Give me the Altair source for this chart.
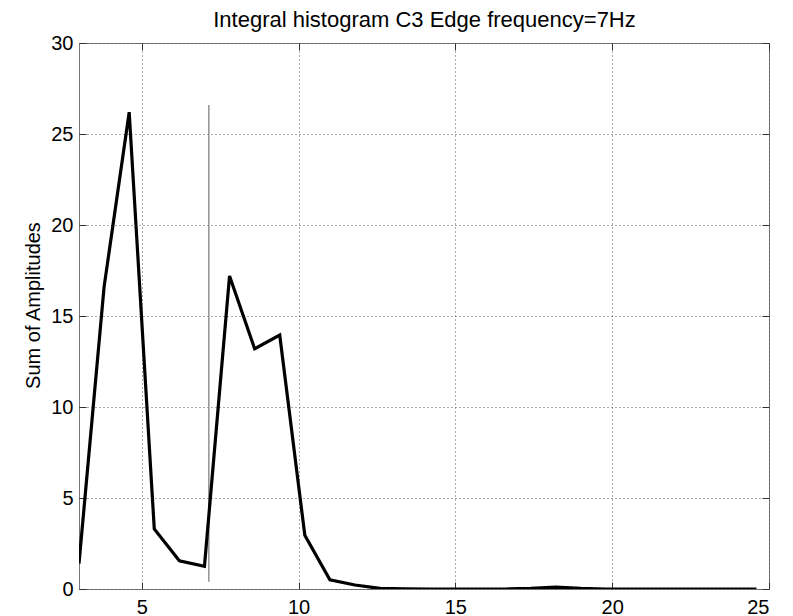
import altair as alt
import pandas as pd

# ---- data ----
freq = [3.0, 3.8, 4.6, 5.4, 6.2, 7.0, 7.8, 8.6, 9.4, 10.2, 11.0, 11.8, 12.6, 13.4,
        14.2, 15.0, 15.8, 16.6, 17.4, 18.2, 19.0, 19.8, 20.6, 21.4, 22.2, 23.0, 23.8, 24.6]
amp = [1.4, 16.6, 26.2, 3.3, 1.55, 1.25, 17.2, 13.2, 13.95, 2.95, 0.5, 0.22, 0.03, 0.01,
       0.0, 0.0, 0.0, 0.0, 0.03, 0.1, 0.03, 0.0, 0.0, 0.0, 0.0, 0.0, 0.0, 0.0]
edge_freq = [7.14]
edge_low = [0.4]
edge_high = [26.6]
x_ticks = [5, 10, 15, 20, 25]
y_ticks = [0, 5, 10, 15, 20, 25, 30]
title_text = "Integral histogram C3 Edge frequency=7Hz"
y_title = "Sum of Amplitudes"

df = pd.DataFrame({"freq": freq, "amp": amp})
edge = pd.DataFrame({"x": edge_freq, "y": edge_low, "y2": edge_high})

W, H = 690, 546
FONT = "Liberation Sans"
TICK = 7
TICKCOL = "#333333"

xs = alt.Scale(domain=[3, 25], nice=False, zero=False)
ys = alt.Scale(domain=[0, 30], nice=False, zero=True)

tick_only = dict(labels=False, grid=False, domain=False, ticks=True, tickSize=TICK,
                 tickColor=TICKCOL, tickWidth=1, offset=-TICK)

# layer 1: edge-frequency marker, carries inner bottom/left ticks
edge_layer = alt.Chart(edge).mark_rule(color="#808080", strokeWidth=1.3).encode(
    x=alt.X("x:Q", scale=xs, axis=alt.Axis(orient="bottom", values=x_ticks, title=None, **tick_only)),
    y=alt.Y("y:Q", scale=ys, axis=alt.Axis(orient="left", values=y_ticks, title=None, **tick_only)),
    y2="y2:Q",
)

# layer 2: invisible points, carries inner top/right ticks and the chart title
ghost = alt.Chart(df).mark_point(opacity=0).encode(
    x=alt.X("freq:Q", scale=xs, axis=alt.Axis(
        orient="top", values=x_ticks, title=title_text,
        titleFont=FONT, titleFontSize=22, titleFontWeight="normal", titleColor="black",
        titleX=W / 2, titleY=-19, titleBaseline="bottom", titleAlign="center",
        **tick_only)),
    y=alt.Y("amp:Q", scale=ys, axis=alt.Axis(orient="right", values=y_ticks, title=None, **tick_only)),
)

# layer 3: the histogram line, carries labels and grid
line = alt.Chart(df).mark_line(color="black", strokeWidth=3.2, strokeJoin="miter", clip=True).encode(
    x=alt.X("freq:Q", scale=xs, axis=alt.Axis(
        orient="bottom", values=x_ticks, grid=True, ticks=False, tickSize=0, domain=False,
        labelPadding=8, labelFontSize=20, labelFont=FONT, labelColor="black",
        gridDash=[1, 3], gridColor="#555555", gridWidth=1, title=None)),
    y=alt.Y("amp:Q", scale=ys, axis=alt.Axis(
        orient="left", values=y_ticks, grid=True, ticks=False, tickSize=0, domain=False,
        labelPadding=6, labelFontSize=20, labelFont=FONT, labelColor="black",
        gridDash=[1, 3], gridColor="#555555", gridWidth=1,
        title=y_title, titleFont=FONT, titleFontSize=20, titleFontWeight="normal",
        titleColor="black", titleX=-36, titleY=262, titleBaseline="bottom",
        titleAngle=270)),
)

chart = alt.layer(edge_layer, ghost, line).resolve_axis(
    x="independent", y="independent"
).properties(
    width=W, height=H,
    autosize=alt.AutoSizeParams(type="none"),
    padding={"left": 79, "top": 43, "right": 24, "bottom": 27},
    background="white",
).configure_view(stroke="#777777", strokeWidth=1)

chart.save("out.html", embed_options={"renderer": "svg", "actions": False})
